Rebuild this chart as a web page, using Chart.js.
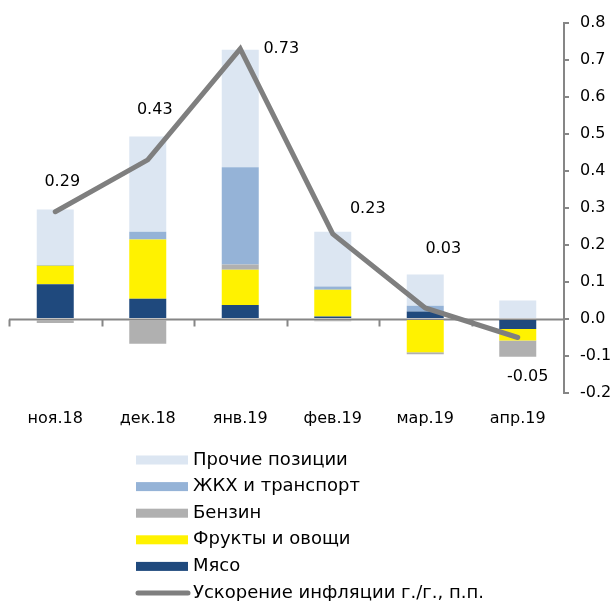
<!DOCTYPE html>
<html>
<head>
<meta charset="utf-8">
<script src="https://cdn.jsdelivr.net/npm/chart.js@4"></script>
<style>
  html, body { margin: 0; padding: 0; background: #fff; }
  #wrap { width: 614px; height: 601px; }
</style>
</head>
<body>
<div id="wrap"><canvas id="grafico" width="614" height="601"></canvas></div>
<script>
// Dados
const meses = ['ноя.18', 'дек.18', 'янв.19', 'фев.19', 'мар.19', 'апр.19'];
const myaso = [0.094, 0.055, 0.038, 0.007, 0.020, -0.027];
const frukty = [0.050, 0.160, 0.095, 0.072, -0.090, -0.031];
const benzin = [-0.011, -0.067, 0.014, -0.006, -0.005, -0.044];
const zhkh = [0.002, 0.021, 0.263, 0.009, 0.016, 0.000];
const prochie = [0.150, 0.257, 0.318, 0.148, 0.084, 0.050];
const uskorenie = [0.29, 0.43, 0.73, 0.23, 0.03, -0.05];

// deslocamento dos rótulos da linha (px) em relação ao ponto
const rotuloDx = [7, 7, 41, 35, 18, 10];
const rotuloDy = [-30, -50, 0, -25, -59, 39];

const FONTE = '"DejaVu Sans", sans-serif';
const CINZA_EIXO = '#868686';

// linha do zero + marcas das categorias
const linhaZero = {
    id: 'linhaZero',
    beforeDatasetsDraw(chart) {
        const ctx = chart.ctx;
        const xs = chart.scales.x, ys = chart.scales.y;
        const y0 = Math.round(ys.getPixelForValue(0)) + 0.5;
        ctx.save();
        ctx.strokeStyle = CINZA_EIXO;
        ctx.lineWidth = 2;
        ctx.beginPath();
        ctx.moveTo(xs.left, y0);
        ctx.lineTo(xs.right, y0);
        const passo = xs.width / meses.length;
        for (let i = 0; i < meses.length; i++) {
            const x = Math.round(xs.left + i * passo) + 0.5;
            ctx.moveTo(x, y0);
            ctx.lineTo(x, y0 + 7);
        }
        ctx.stroke();
        ctx.restore();
    }
};

// rótulos de valor da linha
const rotulosLinha = {
    id: 'rotulosLinha',
    afterDatasetsDraw(chart) {
        const ctx = chart.ctx;
        const meta = chart.getDatasetMeta(0);
        ctx.save();
        ctx.font = '16px ' + FONTE;
        ctx.fillStyle = '#000';
        ctx.textAlign = 'center';
        ctx.textBaseline = 'middle';
        meta.data.forEach((p, i) => {
            ctx.fillText(uskorenie[i].toFixed(2), p.x + rotuloDx[i], p.y + rotuloDy[i]);
        });
        ctx.restore();
    }
};

// legenda vertical embaixo
const legendaVertical = {
    id: 'legendaVertical',
    afterDraw(chart) {
        const ctx = chart.ctx;
        const itens = chart.data.datasets.slice().reverse();
        const x0 = 136, y0 = 460, passo = 26.6;
        ctx.save();
        ctx.font = '18px ' + FONTE;
        ctx.textBaseline = 'middle';
        itens.forEach((ds, i) => {
            const y = y0 + i * passo;
            if (ds.type === 'line') {
                ctx.strokeStyle = ds.borderColor;
                ctx.lineWidth = 5;
                ctx.lineCap = 'round';
                ctx.beginPath();
                ctx.moveTo(x0 + 2, y);
                ctx.lineTo(x0 + 52, y);
                ctx.stroke();
            } else {
                ctx.fillStyle = ds.backgroundColor;
                ctx.fillRect(x0, y - 4.5, 52, 9);
            }
            ctx.fillStyle = '#000';
            ctx.fillText(ds.label, x0 + 57, y);
        });
        ctx.restore();
    }
};

const ctx = document.getElementById('grafico').getContext('2d');
new Chart(ctx, {
    type: 'bar',
    data: {
        labels: meses,
        datasets: [
            { type: 'line', label: 'Ускорение инфляции г./г., п.п.', data: uskorenie,
              borderColor: '#7f7f7f', borderWidth: 5, pointRadius: 0, tension: 0,
              borderCapStyle: 'round', borderJoinStyle: 'miter', order: 0, stack: 'linha' },
            { label: 'Мясо', data: myaso, backgroundColor: '#1f497d', order: 1, stack: 'a' },
            { label: 'Фрукты и овощи', data: frukty, backgroundColor: '#fff200', order: 1, stack: 'a' },
            { label: 'Бензин', data: benzin, backgroundColor: '#b0b0b0', order: 1, stack: 'a' },
            { label: 'ЖКХ и транспорт', data: zhkh, backgroundColor: '#95b3d7', order: 1, stack: 'a' },
            { label: 'Прочие позиции', data: prochie, backgroundColor: '#dce6f2', order: 1, stack: 'a' }
        ]
    },
    options: {
        responsive: false,
        animation: false,
        devicePixelRatio: 1,
        barPercentage: 0.4,
        categoryPercentage: 1.0,
        layout: { padding: { left: 9, right: 0, top: 23, bottom: 0 } },
        plugins: {
            legend: { display: false },
            tooltip: { enabled: false }
        },
        scales: {
            x: {
                stacked: true,
                grid: { display: false, drawTicks: false },
                border: { display: false },
                ticks: { font: { family: FONTE, size: 16 }, color: '#000', padding: 16, maxRotation: 0 },
                afterFit(scale) { scale.height = 208; }
            },
            y: {
                stacked: true,
                position: 'right',
                min: -0.2,
                max: 0.8,
                grid: { drawOnChartArea: false, drawTicks: true, tickLength: 5, color: CINZA_EIXO, lineWidth: 2 },
                border: { display: true, color: CINZA_EIXO, width: 2 },
                ticks: {
                    stepSize: 0.1,
                    font: { family: FONTE, size: 16 }, color: '#000', padding: 11,
                    callback: v => Number(v).toFixed(1)
                },
                afterFit(scale) { scale.width = 50; }
            }
        }
    },
    plugins: [linhaZero, rotulosLinha, legendaVertical]
});
</script>
</body>
</html>
